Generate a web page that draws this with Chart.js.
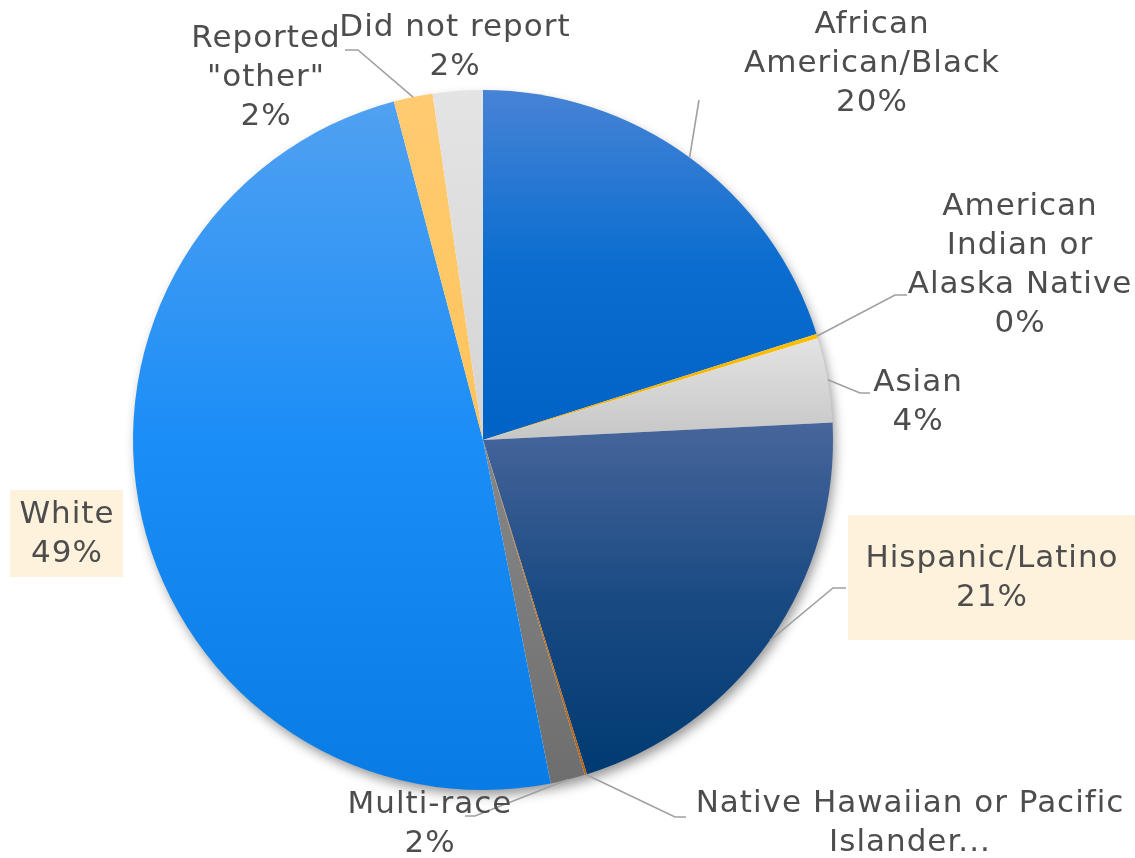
<!DOCTYPE html>
<html>
<head>
<meta charset="utf-8">
<title>Race / ethnicity</title>
<script src="https://cdn.jsdelivr.net/npm/chart.js@4.4.1/dist/chart.umd.min.js"></script>
<style>
  html, body { margin: 0; padding: 0; background: #ffffff; }
  #wrap { width: 1135px; height: 858px; position: relative; }
</style>
</head>
<body>
<div id="wrap"><canvas id="raceChart"></canvas></div>
<script>
// respondent race / ethnicity, share of total (%)
const categories = [
  "African American/Black",
  "American Indian or Alaska Native",
  "Asian",
  "Hispanic/Latino",
  "Native Hawaiian or Pacific Islander",
  "Multi-race",
  "White",
  "Reported \"other\"",
  "Did not report"
];
const shares = [20.1, 0.2, 3.9, 21.0, 0.1, 1.6, 49.0, 1.8, 2.3];

// wrapped label text as it appears next to each slice
const labelLines = [
  ["African", "American/Black"],
  ["American", "Indian or", "Alaska Native"],
  ["Asian"],
  ["Hispanic/Latino"],
  ["Native Hawaiian or Pacific", "Islander..."],
  ["Multi-race"],
  ["White"],
  ["Reported", "\"other\""],
  ["Did not report"]
];
const showPercent = [true, true, true, true, false, true, true, true, true];

// vertical gradient stops per slice (top -> bottom)
const sliceGradients = [
  ["#4783d6", "#0a6dcf", "#0062c4"],
  ["#ffc000", "#f5b400", "#f0a800"],
  ["#e3e3e3", "#d5d5d5", "#c6c6c6"],
  ["#47669b", "#1a4a82", "#003a72"],
  ["#c5751a", "#c06a10", "#b86008"],
  ["#878787", "#7b7b7b", "#6e6e6e"],
  ["#50a1f1", "#1a8df7", "#087ce4"],
  ["#ffcb72", "#ffc866", "#ffc35c"],
  ["#e4e4e4", "#dcdcdc", "#d4d4d4"]
];

// label placement, offsets from the pie centre (px)
const labelPlacement = [
  { tx: 389, ty: -376, elbow: [216, -340] },
  { tx: 537, ty: -175, elbow: [412, -145], tail: [424, -145] },
  { tx: 435, ty: -38, elbow: [377, -47], tail: [387, -47] },
  { tx: 509, ty: 138, elbow: [350, 148], tail: [363, 148], box: { cx: 508.5, cy: 137.5, w: 287, h: 125 } },
  { tx: 427, ty: 383, elbow: [192, 377], tail: [203, 377] },
  { tx: -53, ty: 384, elbow: [-8, 376], tail: [-18, 376] },
  { tx: -416, ty: 94, box: { cx: -416.5, cy: 93.5, w: 113, h: 87 } },
  { tx: -217, ty: -362, elbow: [-125, -390], tail: [-138, -390] },
  { tx: -28, ty: -393 }
];

const LABEL_FONT = "31px 'DejaVu Sans', sans-serif";
const LABEL_COLOR = "#4d4d4d";
const LINE_HEIGHT = 39;

// y-extent of a sector, so each slice gets its own top->bottom gradient
function sectorYRange(arc) {
  const { x, y, outerRadius: r, startAngle: a0, endAngle: a1 } = arc.getProps(["x", "y", "outerRadius", "startAngle", "endAngle"], true);
  let ys = [y, y + r * Math.sin(a0), y + r * Math.sin(a1)];
  const passes = (ang) => {
    let t = ang;
    while (t < a0) t += Math.PI * 2;
    return t <= a1;
  };
  if (passes(-Math.PI / 2)) ys.push(y - r);
  if (passes(Math.PI / 2)) ys.push(y + r);
  return [Math.min(...ys), Math.max(...ys)];
}

const gradientPlugin = {
  id: "sliceGradient",
  beforeDatasetsDraw(chart) {
    const ctx = chart.ctx;
    const meta = chart.getDatasetMeta(0);
    meta.data.forEach((arc, i) => {
      const [top, bottom] = sectorYRange(arc);
      const g = ctx.createLinearGradient(0, top, 0, Math.max(bottom, top + 1));
      const stops = sliceGradients[i];
      g.addColorStop(0, stops[0]);
      g.addColorStop(0.5, stops[1]);
      g.addColorStop(1, stops[2]);
      arc.options.backgroundColor = g;
    });

    // soft drop shadow under the whole pie
    const first = meta.data[0];
    if (!first) return;
    const { x, y, outerRadius } = first.getProps(["x", "y", "outerRadius"], true);
    ctx.save();
    ctx.shadowColor = "rgba(0,0,0,0.42)";
    ctx.shadowBlur = 12;
    ctx.shadowOffsetX = 3;
    ctx.shadowOffsetY = 6;
    ctx.fillStyle = "#ffffff";
    ctx.beginPath();
    ctx.arc(x, y, outerRadius - 1, 0, Math.PI * 2);
    ctx.fill();
    ctx.restore();
  }
};

const labelPlugin = {
  id: "sliceLabels",
  afterDatasetsDraw(chart) {
    const ctx = chart.ctx;
    const meta = chart.getDatasetMeta(0);
    const data = chart.data.datasets[0].data;
    const total = data.reduce((a, b) => a + b, 0);

    meta.data.forEach((arc, i) => {
      const p = labelPlacement[i];
      const { x, y, outerRadius, startAngle, endAngle } = arc.getProps(["x", "y", "outerRadius", "startAngle", "endAngle"], true);
      const mid = (startAngle + endAngle) / 2;

      // leader line from the slice edge
      if (p.elbow) {
        ctx.save();
        ctx.strokeStyle = "#a0a0a0";
        ctx.lineWidth = 1.6;
        ctx.beginPath();
        ctx.moveTo(x + outerRadius * Math.cos(mid), y + outerRadius * Math.sin(mid));
        ctx.lineTo(x + p.elbow[0], y + p.elbow[1]);
        if (p.tail) ctx.lineTo(x + p.tail[0], y + p.tail[1]);
        ctx.stroke();
        ctx.restore();
      }

      if (p.box) {
        ctx.save();
        ctx.fillStyle = "#fff2dc";
        ctx.fillRect(x + p.box.cx - p.box.w / 2, y + p.box.cy - p.box.h / 2, p.box.w, p.box.h);
        ctx.restore();
      }

      const lines = labelLines[i].slice();
      if (showPercent[i]) lines.push(Math.round(data[i] / total * 100) + "%");

      ctx.save();
      ctx.font = LABEL_FONT;
      ctx.letterSpacing = "1px";
      ctx.fillStyle = LABEL_COLOR;
      ctx.textAlign = "center";
      ctx.textBaseline = "middle";
      lines.forEach((txt, k) => {
        const ly = y + p.ty + (k - (lines.length - 1) / 2) * LINE_HEIGHT;
        ctx.fillText(txt, x + p.tx, ly);
      });
      ctx.restore();
    });
  }
};

function createRacePieChart() {
  const ctx = document.getElementById("raceChart");
  if (!ctx) return;

  new Chart(ctx, {
    type: "pie",
    data: {
      labels: categories,
      datasets: [{
        data: shares,
        backgroundColor: sliceGradients.map(s => s[1]),
        borderWidth: 0,
        hoverOffset: 0
      }]
    },
    options: {
      responsive: true,
      maintainAspectRatio: false,
      animation: false,
      layout: {
        padding: { top: 90, bottom: 68, left: 133, right: 302 }
      },
      plugins: {
        legend: { display: false },
        tooltip: { enabled: false }
      },
      events: []
    },
    plugins: [gradientPlugin, labelPlugin]
  });
}

window.addEventListener("DOMContentLoaded", () => {
  createRacePieChart();
});
</script>
</body>
</html>
